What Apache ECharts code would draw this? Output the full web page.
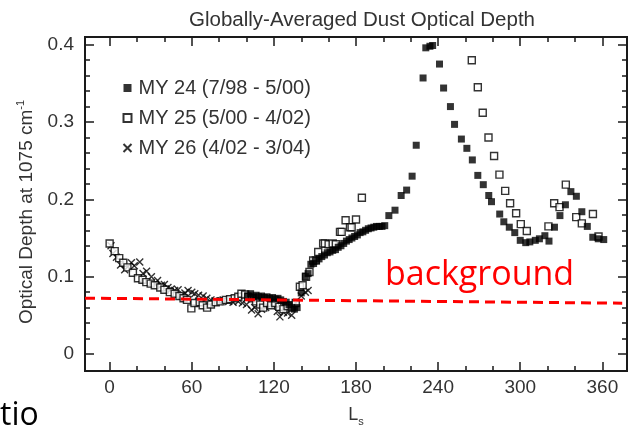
<!DOCTYPE html>
<html><head><meta charset="utf-8">
<script src="https://cdn.jsdelivr.net/npm/echarts@6/dist/echarts.min.js"></script>
<style>html,body{margin:0;padding:0;background:#fff;}#c{width:636px;height:439px;}</style>
</head><body><div id="c"></div>
<script>
const titleText = 'Globally-Averaged Dust Optical Depth';
const yAxisName = 'Optical Depth at 1075 cm{sup|-1}';
const xAxisName = 'L{sub|s}';
const xMajorTicks = [0, 60, 120, 180, 240, 300, 360];
const xMinorTicks = [0, 20, 40, 60, 80, 100, 120, 140, 160, 180, 200, 220, 240, 260, 280, 300, 320, 340, 360];
const yMajorTicks = [0, 0.1, 0.2, 0.3, 0.4];
const yMinorTicks = [0, 0.02, 0.04, 0.06, 0.08, 0.1, 0.12, 0.14, 0.16, 0.18, 0.2, 0.22, 0.24, 0.26, 0.28, 0.3, 0.32, 0.34, 0.36, 0.38, 0.4];
const seriesNames = ['MY 24 (7/98 - 5/00)', 'MY 25 (5/00 - 4/02)', 'MY 26 (4/02 - 3/04)'];
const annotationText = 'background';
const cornerText = 'tio';

const my24 = [[101,0.075],[103,0.078],[105,0.074],[107,0.076],[109,0.074],[111,0.075],[113,0.073],[115,0.074],[117,0.072],[119,0.073],[121,0.071],[123,0.072],[125,0.070],[127,0.068],[129,0.067],[131,0.064],[133,0.060],[135,0.058],[137,0.060],[140,0.079],[143,0.100],[145,0.104],[147,0.116],[149,0.117],[151,0.121],[153,0.123],[155,0.126],[157,0.128],[159,0.131],[161,0.132],[163,0.134],[165,0.135],[167,0.138],[169,0.140],[171,0.143],[173,0.146],[175,0.148],[177,0.150],[179,0.152],[181,0.154],[183,0.157],[185,0.158],[187,0.160],[189,0.162],[191,0.163],[193,0.164],[195,0.165],[197,0.165],[199,0.165],[201,0.166],[204,0.179],[208.5,0.186],[213,0.205],[217,0.212],[221,0.230],[224,0.270],[229,0.357],[231,0.396],[234,0.398],[236,0.399],[241,0.375],[244,0.344],[249,0.320],[252,0.297],[257,0.278],[261,0.266],[265,0.251],[269,0.231],[273,0.219],[277,0.205],[279,0.197],[285,0.181],[288,0.171],[292,0.164],[296,0.157],[300,0.147],[304,0.144],[307,0.145],[311,0.147],[314,0.149],[318,0.153],[321,0.146],[325,0.164],[329,0.179],[333,0.193],[337,0.210],[341,0.204],[345,0.184],[349,0.165],[353,0.151],[357,0.149],[361,0.148]];

const my25 = [[0,0.143],[3.7,0.133],[7,0.124],[10,0.118],[13,0.112],[17,0.105],[20.7,0.098],[24,0.096],[26.8,0.093],[30,0.091],[33,0.089],[37,0.086],[40,0.083],[44,0.080],[47.5,0.078],[51,0.075],[54,0.072],[56.5,0.070],[59.7,0.059],[62,0.066],[65.8,0.067],[68,0.063],[71.2,0.060],[74,0.064],[77.5,0.067],[81,0.068],[84.9,0.070],[88,0.071],[91.4,0.072],[94,0.074],[96.3,0.078],[99,0.077],[101.2,0.074],[104,0.072],[107,0.068],[110,0.064],[112.2,0.060],[115,0.066],[118,0.063],[121,0.066],[124,0.061],[127,0.058],[130,0.062],[133,0.060],[136,0.066],[139,0.087],[141,0.089],[143.5,0.100],[146,0.106],[148.7,0.121],[150.7,0.121],[152.4,0.132],[156,0.143],[157.3,0.143],[160,0.142],[163,0.143],[165.3,0.142],[168.3,0.158],[169.5,0.158],[172.4,0.173],[175.6,0.164],[176.8,0.164],[180,0.174],[184.3,0.202],[264.6,0.380],[269,0.345],[272.6,0.312],[276.8,0.280],[280.9,0.256],[284.8,0.232],[289,0.211],[292.6,0.195],[297,0.182],[300.4,0.168],[304.8,0.159],[320.6,0.165],[324.8,0.195],[328.7,0.190],[333.3,0.219],[340.9,0.177],[345,0.169],[353.1,0.181],[357.2,0.152]];

const my26 = [[1,0.140],[2.4,0.130],[5,0.125],[8,0.115],[11,0.109],[13.5,0.113],[15.9,0.118],[18,0.114],[22,0.119],[24.4,0.104],[27,0.107],[30.5,0.100],[32.9,0.091],[35,0.095],[37.8,0.089],[40,0.090],[42.6,0.086],[45,0.084],[47.5,0.082],[50,0.083],[52.5,0.076],[55,0.079],[57.3,0.082],[60,0.080],[62.2,0.078],[65,0.076],[68.3,0.075],[71,0.072],[74,0.070],[77,0.069],[80,0.068],[83,0.070],[87,0.068],[90.2,0.067],[94,0.068],[97,0.066],[100,0.064],[103.7,0.057],[106,0.060],[108.5,0.052],[111,0.058],[114,0.060],[117,0.066],[120.7,0.064],[122.5,0.055],[124.4,0.048],[127,0.054],[130,0.053],[133,0.050],[136,0.066],[140,0.075],[143,0.080],[145,0.082]];

const backgroundLine = [[-18,0.0722],[374.5,0.0657]];

const FONT = 'Liberation Sans, Arial, sans-serif';
const TXT = '#333';
const FRAME = '#1a1a1a';
const X_MIN = -18, X_MAX = 378, Y_MIN = -0.022, Y_MAX = 0.41;

function xAx(pos, ticks, len, withLabels) {
  const a = {
    type: 'value', position: pos, min: X_MIN, max: X_MAX, gridIndex: 0,
    axisLine: { show: true, onZero: false, lineStyle: { color: FRAME, width: 2 } },
    axisTick: { show: true, inside: true, length: len, customValues: ticks, lineStyle: { color: FRAME, width: 1.5 } },
    axisLabel: { show: withLabels },
    splitLine: { show: false }
  };
  if (withLabels) {
    a.axisLabel = { show: true, customValues: xMajorTicks, fontSize: 19, color: TXT, fontFamily: FONT, margin: 7 };
    a.name = xAxisName; a.nameLocation = 'middle'; a.nameGap = 33;
    a.nameTextStyle = { fontSize: 18, color: TXT, fontFamily: FONT, rich: { sub: { fontSize: 11, color: TXT, fontFamily: FONT, padding: [12, 0, 0, 0] } } };
  }
  return a;
}
function yAx(pos, ticks, len, withLabels) {
  const a = {
    type: 'value', position: pos, min: Y_MIN, max: Y_MAX, gridIndex: 0,
    axisLine: { show: true, onZero: false, lineStyle: { color: FRAME, width: 2 } },
    axisTick: { show: true, inside: true, length: len, customValues: ticks, lineStyle: { color: FRAME, width: 1.5 } },
    axisLabel: { show: false },
    splitLine: { show: false }
  };
  if (withLabels) {
    a.axisLabel = { show: true, customValues: yMajorTicks, fontSize: 19, color: TXT, fontFamily: FONT, margin: 11,
      formatter: v => (Math.abs(v) < 1e-9 ? '0' : (+v).toFixed(1)) };
    a.name = yAxisName; a.nameLocation = 'middle'; a.nameGap = 47; a.nameRotate = 90;
    a.nameTextStyle = { fontSize: 19, color: TXT, fontFamily: FONT, padding: [0, 16, 0, 0],
      rich: { sup: { fontSize: 11, color: TXT, fontFamily: FONT, padding: [0, 0, 12, 0] } } };
  }
  return a;
}

const chart = echarts.init(document.getElementById('c'), null, { renderer: 'canvas' });
chart.setOption({
  backgroundColor: '#fff',
  animation: false,
  title: { text: titleText, left: 357, textAlign: 'center', top: 5,
    textStyle: { fontSize: 20.5, fontWeight: 'normal', color: TXT, fontFamily: FONT } },
  grid: { left: 85, right: 9, top: 37, bottom: 68 },
  legend: { orient: 'vertical', left: 116, top: 73, itemWidth: 8, itemHeight: 8, itemGap: 10,
    textStyle: { fontSize: 20, color: TXT, fontFamily: FONT, padding: [0, 0, 0, 2] },
    data: seriesNames },
  xAxis: [ xAx('bottom', xMajorTicks, 9, true), xAx('bottom', xMinorTicks, 5, false),
           xAx('top', xMajorTicks, 9, false), xAx('top', xMinorTicks, 5, false) ],
  yAxis: [ yAx('left', yMajorTicks, 9, true), yAx('left', yMinorTicks, 5, false),
           yAx('right', yMajorTicks, 9, false), yAx('right', yMinorTicks, 5, false) ],
  series: [
    { name: seriesNames[0], type: 'scatter', data: my24, symbol: 'rect', symbolSize: 7,
      itemStyle: { color: '#000' }, z: 4 },
    { name: seriesNames[1], type: 'scatter', data: my25, symbol: 'rect', symbolSize: 7,
      itemStyle: { color: '#fff', borderColor: '#000', borderWidth: 1.4 }, z: 3 },
    { name: seriesNames[2], type: 'scatter', data: my26, symbol: 'path://M0,0L10,10M10,0L0,10', symbolSize: 7,
      itemStyle: { color: 'none', borderColor: '#000', borderWidth: 1.4 }, z: 2 },
    { name: 'background level', type: 'line', data: backgroundLine, symbol: 'none', silent: true, z: 6,
      lineStyle: { color: '#ff0000', width: 3, type: [10, 6] } }
  ],
  graphic: [
    { type: 'text', left: 385, top: 258, z: 10, style: { text: annotationText, fill: '#ff0000', font: '34px "Open Sans", sans-serif' } },
    { type: 'text', left: 0, top: 400, z: 10, style: { text: cornerText, fill: '#000', font: '32px "Open Sans", sans-serif' } }
  ]
});
</script></body></html>
